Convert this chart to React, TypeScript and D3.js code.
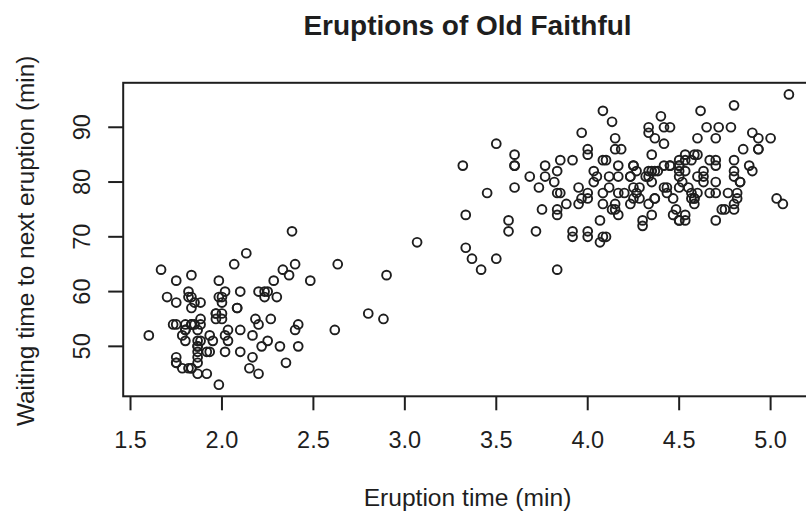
import React from "react";
import * as d3 from "d3";

const eruptions: number[] = [
  3.6, 1.8, 3.333, 2.283, 4.533, 2.883, 4.7, 3.6, 1.95, 4.35, 1.833, 3.917, 4.2, 1.75, 4.7, 2.167, 1.75, 4.8, 1.6, 4.25,
  1.8, 1.75, 3.45, 3.067, 4.533, 3.6, 1.967, 4.083, 3.85, 4.433, 4.3, 4.467, 3.367, 4.033, 3.833, 2.017, 1.867, 4.833, 1.833, 4.783,
  4.35, 1.883, 4.567, 1.75, 4.533, 3.317, 3.833, 2.1, 4.633, 2.0, 4.8, 4.716, 1.833, 4.833, 1.733, 4.883, 3.717, 1.667, 4.567, 4.317,
  2.233, 4.5, 1.75, 4.8, 1.817, 4.4, 4.167, 4.7, 2.067, 4.7, 4.033, 1.967, 4.5, 4.0, 1.983, 5.067, 2.017, 4.567, 3.883, 3.6,
  4.133, 4.333, 4.1, 2.633, 4.067, 4.933, 3.95, 4.517, 2.167, 4.0, 2.2, 4.333, 1.867, 4.817, 1.833, 4.3, 4.667, 3.75, 1.867, 4.9,
  2.483, 4.367, 2.1, 4.5, 4.05, 1.867, 4.7, 1.783, 4.85, 3.683, 4.733, 2.3, 4.9, 4.417, 1.7, 4.633, 2.317, 4.6, 1.817, 4.417,
  2.617, 4.067, 4.25, 1.967, 4.6, 3.767, 1.917, 4.5, 2.267, 4.65, 1.867, 4.167, 2.8, 4.333, 1.833, 4.383, 1.883, 4.933, 2.033, 3.733,
  4.233, 2.233, 4.533, 4.817, 4.333, 1.983, 4.633, 2.017, 5.1, 1.8, 5.033, 4.0, 2.4, 4.6, 3.567, 4.0, 4.5, 4.083, 1.8, 3.967,
  2.2, 4.15, 2.0, 3.833, 3.5, 4.583, 2.367, 5.0, 1.933, 4.617, 1.917, 2.083, 4.583, 3.333, 4.167, 4.333, 4.5, 2.417, 4.0, 4.167,
  1.883, 4.583, 4.25, 3.767, 2.033, 4.433, 4.083, 1.833, 4.417, 2.183, 4.8, 1.833, 4.8, 4.1, 3.966, 4.233, 3.5, 4.366, 2.25, 4.667,
  2.1, 4.35, 4.133, 1.867, 4.6, 1.783, 4.367, 3.85, 1.933, 4.5, 2.383, 4.7, 1.867, 3.833, 3.417, 4.233, 2.4, 4.8, 2.0, 4.15,
  1.867, 4.267, 1.75, 4.483, 4.0, 4.117, 4.083, 4.267, 3.917, 4.55, 4.083, 2.417, 4.183, 2.217, 4.45, 1.883, 1.85, 4.283, 3.95, 2.333,
  4.15, 2.35, 4.933, 2.9, 4.583, 3.833, 2.083, 4.367, 2.133, 4.35, 2.2, 4.45, 3.567, 4.5, 4.15, 3.817, 3.917, 4.45, 2.0, 4.283,
  4.767, 4.533, 1.85, 4.25, 1.983, 2.25, 4.75, 4.117, 2.15, 4.417, 1.817, 4.467,
];

const waiting: number[] = [
  79, 54, 74, 62, 85, 55, 88, 85, 51, 85, 54, 84, 78, 47, 83, 52, 62, 84, 52, 79,
  51, 47, 78, 69, 74, 83, 55, 76, 78, 79, 73, 77, 66, 80, 74, 52, 48, 80, 59, 90,
  80, 58, 84, 58, 73, 83, 64, 53, 82, 59, 75, 90, 54, 80, 54, 83, 71, 64, 77, 81,
  59, 84, 48, 82, 60, 92, 78, 78, 65, 73, 82, 56, 79, 71, 62, 76, 60, 78, 76, 83,
  75, 82, 70, 65, 73, 88, 76, 80, 48, 86, 60, 90, 50, 78, 63, 72, 84, 75, 51, 82,
  62, 88, 49, 83, 81, 47, 84, 52, 86, 81, 75, 59, 89, 79, 59, 81, 50, 85, 59, 87,
  53, 69, 77, 56, 88, 81, 45, 82, 55, 90, 45, 83, 56, 89, 46, 82, 51, 86, 53, 79,
  81, 60, 82, 77, 76, 59, 80, 49, 96, 53, 77, 77, 65, 81, 71, 70, 81, 93, 53, 89,
  45, 86, 58, 78, 66, 76, 63, 88, 52, 93, 49, 57, 77, 68, 81, 81, 73, 50, 85, 74,
  55, 77, 83, 83, 51, 78, 84, 46, 83, 55, 81, 57, 76, 84, 77, 81, 87, 77, 51, 78,
  60, 82, 91, 53, 78, 46, 77, 84, 49, 83, 71, 80, 49, 75, 64, 76, 53, 94, 55, 76,
  50, 82, 54, 75, 78, 79, 78, 78, 70, 79, 70, 54, 86, 50, 90, 54, 54, 77, 79, 64,
  75, 47, 86, 63, 85, 82, 57, 82, 67, 74, 54, 83, 73, 73, 88, 80, 71, 83, 56, 79,
  78, 84, 58, 83, 43, 60, 75, 81, 46, 90, 46, 74,
];

const xTicks: number[] = [1.5, 2.0, 2.5, 3.0, 3.5, 4.0, 4.5, 5.0];
const yTicks: number[] = [50, 60, 70, 80, 90];

const titleText = "Eruptions of Old Faithful";
const xLabel = "Eruption time (min)";
const yLabel = "Waiting time to next eruption (min)";

export default function App() {
  const W = 806;
  const H = 511;
  const x = d3.scaleLinear().domain([1.46, 5.24]).range([123.2, 814.5]);
  const y = d3.scaleLinear().domain([40.88, 98.12]).range([396.3, 82.8]);
  const ink = "#1e1e1e";
  const font = "'Liberation Sans', Arial, sans-serif";
  const [x0, x1] = x.range();
  const [yb, yt] = y.range();

  return (
    <div style={{ position: "absolute", left: 0, top: 0, width: W, height: H, overflow: "hidden", background: "#fff" }}>
      <svg width={W} height={H} style={{ display: "block" }} fontFamily={font}>
        <rect x={0} y={0} width={W} height={H} fill="#fff" />
        <text x={467.5} y={35} textAnchor="middle" fontSize={28} fontWeight="bold" fill={ink}>
          {titleText}
        </text>
        {eruptions.map((e, i) => (
          <circle key={i} cx={x(e)} cy={y(waiting[i])} r={4.4} fill="none" stroke={ink} strokeWidth={1.9} />
        ))}
        <rect x={x0} y={yt} width={x1 - x0} height={yb - yt} fill="none" stroke={ink} strokeWidth={2} />
        {xTicks.map((t) => (
          <g key={"x" + t}>
            <line x1={x(t)} x2={x(t)} y1={yb} y2={yb + 14} stroke={ink} strokeWidth={2} />
            <text x={x(t)} y={448} textAnchor="middle" fontSize={23.5} fill={ink}>
              {t.toFixed(1)}
            </text>
          </g>
        ))}
        {yTicks.map((t) => (
          <g key={"y" + t}>
            <line x1={x0 - 15} x2={x0} y1={y(t)} y2={y(t)} stroke={ink} strokeWidth={2} />
            <text
              transform={`translate(90,${y(t)}) rotate(-90)`}
              textAnchor="middle"
              fontSize={23.5}
              fill={ink}
            >
              {t}
            </text>
          </g>
        ))}
        <text x={467.5} y={506} textAnchor="middle" fontSize={24.6} fill={ink}>
          {xLabel}
        </text>
        <text transform={`translate(33.5,240.8) rotate(-90)`} textAnchor="middle" fontSize={24.4} fill={ink}>
          {yLabel}
        </text>
      </svg>
    </div>
  );
}
